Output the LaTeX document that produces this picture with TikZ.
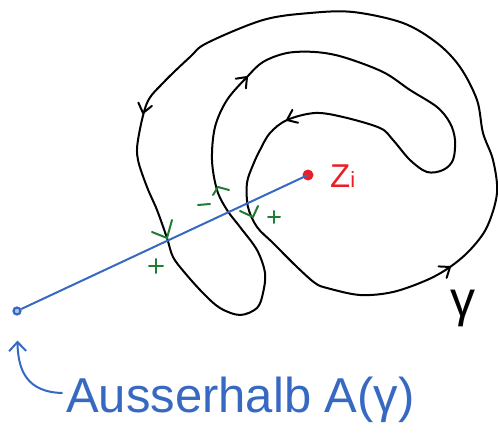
\documentclass[tikz,border=0pt]{standalone}
\usepackage{fontspec}
\setmainfont{Liberation Sans}
\usetikzlibrary{arrows.meta}
\definecolor{penblue}{RGB}{55,105,195}
\definecolor{penred}{RGB}{235,30,40}
\definecolor{pengreen}{RGB}{30,125,50}
\begin{document}
\begin{tikzpicture}[x=1pt,y=-1pt,
  curve/.style={line width=2pt, line cap=round, line join=round},
  greenmark/.style={pengreen, line width=2pt, line cap=round, line join=round},
  chev/.pic={\draw[curve] (-9,-7) -- (0,0) -- (-9,7);}]
\useasboundingbox (0,0) rectangle (498,441);
% curve gamma
\draw[curve] plot[smooth cycle, tension=0.55] coordinates {
 (493,160) (483,133) (477,100) (460,67) (437,43) (403,23) (353,12) (310,13)
 (263,20) (207,43) (190,57) (163,83) (147,103) (138,140) (138,160) (147,187)
 (157,210) (167,238) (173,257) (185,273) (203,293) (220,308) (240,315) (257,308)
 (263,293) (265,273) (257,250) (240,227) (227,210) (217,190) (212,160) (215,127)
 (227,100) (247,77) (263,62) (287,53) (315,52) (343,57) (383,72) (410,90)
 (437,107) (450,123) (455,140) (453,160) (443,170) (427,172) (410,160) (393,140)
 (380,128) (343,117) (315,113) (287,120) (270,133) (260,150) (253,165) (247,183)
 (248,207) (257,227) (273,243) (297,267) (315,283) (327,288) (360,295) (393,292)
 (427,280) (450,267) (470,250) (487,227) (497,193)};
% arrowheads on gamma
\pic[rotate=-103.7] at (143,113) {chev};
\pic[rotate=46.5] at (247,77) {chev};
\pic[rotate=-156] at (287,120) {chev};
\pic[rotate=34.9] at (450,267) {chev};
% nodes
\node[circle, draw=penblue, fill=penblue!40, line width=2.2pt, inner sep=0pt, minimum size=7pt] (p) at (17,311) {};
\node[circle, fill=penred, inner sep=0pt, minimum size=11pt] (z) at (308,175) {};
\draw[penblue, line width=2pt] (p) -- (z.center);
\node[penred, anchor=base west, inner sep=0pt] (zl) at (330,187)
  {\fontsize{33}{33}\selectfont Z\fontsize{22}{22}\selectfont i};
\node[inner sep=0pt] (g) at (463,308) {\fontsize{50}{50}\selectfont γ};
\node[penblue, anchor=base west, inner sep=0pt] (t) at (66,412)
  {\fontsize{49}{50}\selectfont Ausserhalb A(γ)};
\coordinate (as) at (62,393);
\draw[penblue, line width=2pt, line cap=round, shorten >=25pt,
  -{Straight Barb[length=9pt,width=17pt]}]
  (as) .. controls (28,392) and (18,372) .. (p.south);
% green marks
\draw[greenmark] (152,232) -- (167,238) -- (172,220);
\draw[greenmark] (213,195) -- (218,187) -- (229,190);
\draw[greenmark] (240,211) -- (253,217) -- (258,206);
\draw[greenmark] (198,205) -- (210,204);
\draw[greenmark] (268,217) -- (280,217) (274,211) -- (274,223);
\draw[greenmark] (149,266) -- (163,266) (156,259) -- (156,273);
\end{tikzpicture}
\end{document}
